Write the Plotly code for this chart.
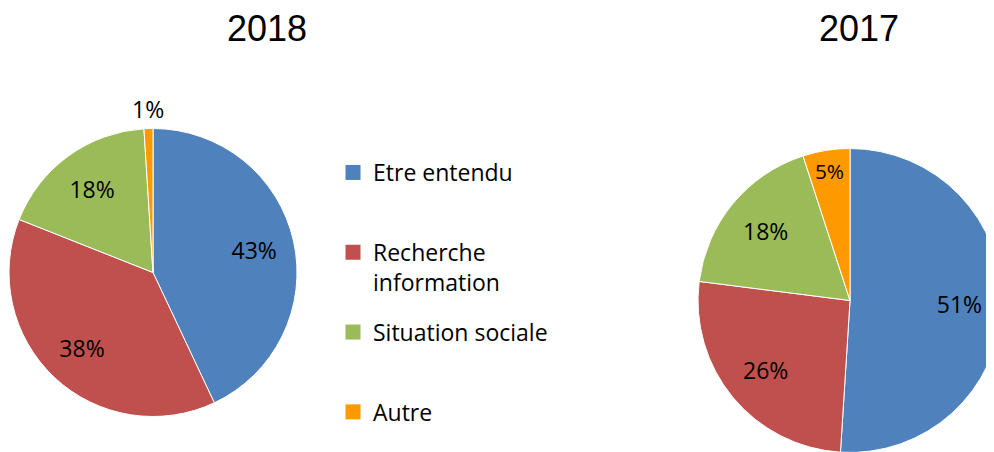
import math
import plotly.graph_objects as go

categories = ["Etre entendu", "Recherche information", "Situation sociale", "Autre"]
legend_labels = ["Etre entendu<br> ", "Recherche<br>information", "Situation sociale<br> ", "Autre"]
values_2018 = [43, 38, 18, 1]
values_2017 = [51, 26, 18, 5]
years = ["2018", "2017"]
colors = ["#4F81BD", "#C0504D", "#9BBB59", "#FF9900"]

W, H = 994, 452
label_font = dict(family="Open Sans", size=23, color="black")

# pie geometry in figure pixels: centre x, centre y, radius
geom = {"2018": (145, 264.5, 144), "2017": (842, 292.5, 152)}


def domain_of(cx, cy, r):
    return dict(x=[(cx - r) / W, min(1.0, (cx + r) / W)],
                y=[max(0.0, 1 - (cy + r) / H), 1 - (cy - r) / H])


fig = go.Figure()

for vals, yr in [(values_2018, years[0]), (values_2017, years[1])]:
    cx, cy, r = geom[yr]
    dom = domain_of(cx, cy, r)
    small = [v < 3 for v in vals]
    fig.add_trace(go.Pie(
        labels=categories, values=vals, sort=False, direction="clockwise",
        rotation=0, marker=dict(colors=colors, line=dict(color="white", width=1)),
        textinfo="none", domain=dom, showlegend=False, name=yr,
        hoverinfo="label+percent",
    ))
    # transparent ring on top, so the inside labels sit further out like Excel's
    fig.add_trace(go.Pie(
        labels=categories, values=vals, sort=False, direction="clockwise",
        rotation=0, hole=0.44,
        marker=dict(colors=["rgba(0,0,0,0)"] * 4, line=dict(width=0)),
        text=["" if s else f"{v}%" for v, s in zip(vals, small)],
        textinfo="text", textposition="inside", insidetextorientation="horizontal",
        insidetextfont=label_font, domain=dom, showlegend=False, hoverinfo="skip",
    ))
    # tiny slices: label just outside the rim, on the slice's mid angle
    total = sum(vals)
    cum = 0
    for v, s in zip(vals, small):
        if s:
            a = 2 * math.pi * (cum + v / 2) / total
            fig.add_annotation(
                text=f"{v}%", x=(cx + (r + 2) * math.sin(a)) / W,
                y=1 - (cy - (r + 2) * math.cos(a)) / H,
                xref="paper", yref="paper", xanchor="center", yanchor="bottom",
                showarrow=False, font=label_font,
            )
        cum += v

# legend entries (one group each, so the spacing can be set)
for i, (lab, col) in enumerate(zip(legend_labels, colors)):
    fig.add_trace(go.Scatter(
        x=[None], y=[None], mode="markers", name=lab,
        marker=dict(symbol="square", size=15, color=col),
        legendgroup=f"g{i}", hoverinfo="skip",
    ))

for yr, xc in [(years[0], 259), (years[1], 851)]:
    fig.add_annotation(
        text=yr, x=xc / W, y=1 - 20.5 / H, xref="paper", yref="paper",
        xanchor="center", yanchor="middle", showarrow=False,
        font=dict(family="Liberation Sans", size=36, color="black"),
    )

fig.update_layout(
    width=W, height=H, margin=dict(l=0, r=0, t=0, b=0, autoexpand=False),
    paper_bgcolor="white", plot_bgcolor="white",
    xaxis=dict(visible=False), yaxis=dict(visible=False),
    legend=dict(
        x=325 / W, y=1 - 143 / H, xanchor="left", yanchor="top",
        font=dict(family="Open Sans", size=23, color="black"),
        valign="top", tracegroupgap=17, bgcolor="rgba(0,0,0,0)",
    ),
)

fig.write_html("out.html")
